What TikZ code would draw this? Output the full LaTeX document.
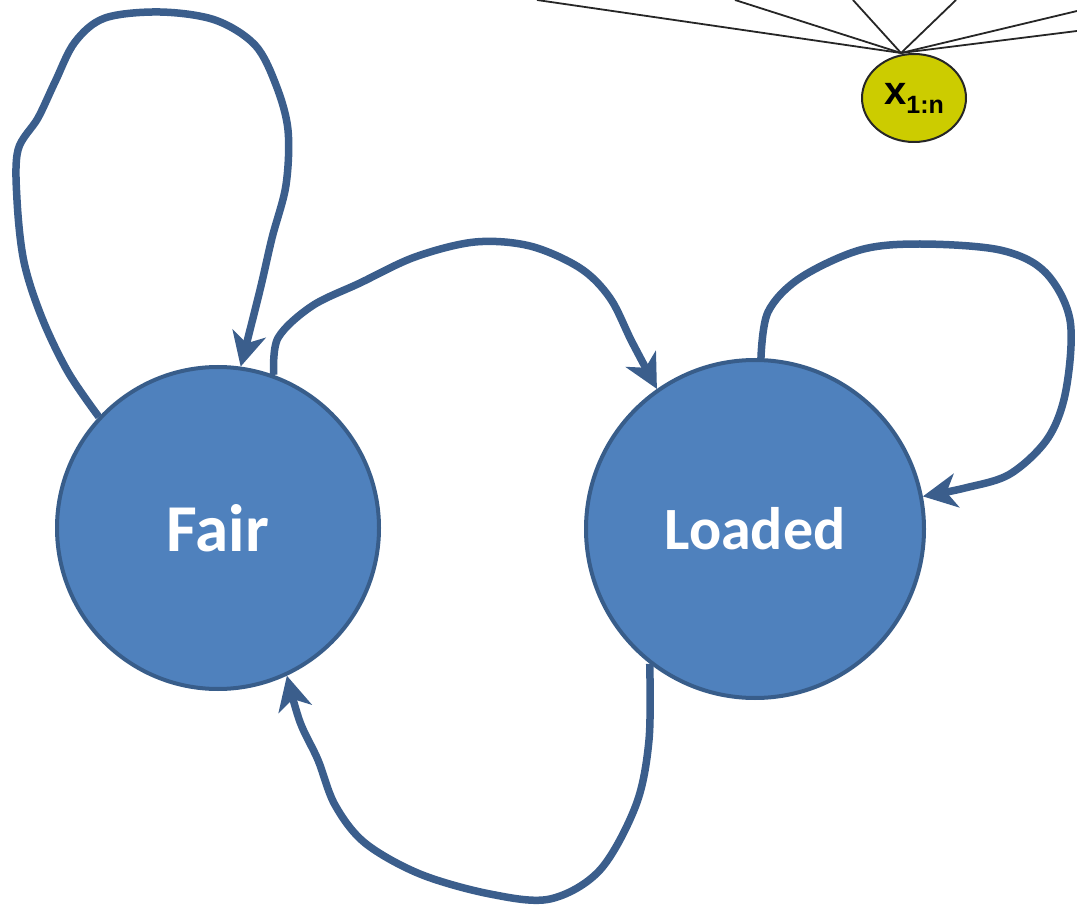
\documentclass[tikz,border=0pt]{standalone}
\usepackage{fontspec}
\usetikzlibrary{arrows.meta,shapes.geometric}
\newfontfamily\statefont{Carlito}
\newfontfamily\obsfont{Liberation Sans}
\definecolor{statefill}{HTML}{4F81BD}
\definecolor{stateline}{HTML}{385D8A}
\definecolor{arcline}{HTML}{3B5E8C}
\definecolor{obsfill}{HTML}{CCCC00}

\tikzset{
  state/.style={circle, draw=stateline, line width=4pt, fill=statefill, inner sep=0pt,
    text=white, font=\statefont\bfseries},
  trans/.style={draw=arcline, line width=7.5pt, line join=round,
    -{Stealth[length=34pt, width=34pt, inset=10pt]}},
  obs/.style={ellipse, draw=black!85, line width=2pt, fill=obsfill, inner sep=0pt,
    minimum width=104pt, minimum height=88pt},
  edge/.style={draw=black!85, line width=1.8pt}
}

\begin{document}
\begin{tikzpicture}[x=1pt, y=-1pt]
    \useasboundingbox (0,0) rectangle (1077,909);
    % the two states
    \node[state, minimum size=322pt, font=\statefont\bfseries\fontsize{67}{67}\selectfont] (fair) at (218,528) {Fair};
    \node[state, minimum size=338pt, font=\statefont\bfseries\fontsize{60}{60}\selectfont] (loaded) at (755,529) {Loaded};

    % observed variable, cut off at the top
    \node[obs] (obs) at (914,98) {};
    \node at (obs.center) {\obsfont\bfseries\fontsize{40}{40}\selectfont x\raisebox{-9pt}{\fontsize{25}{25}\selectfont 1:n}};
    \coordinate (top) at (901,53);
    \coordinate (e1) at (537,0);
    \coordinate (e2) at (735,0);
    \coordinate (e3) at (853,0);
    \coordinate (e4) at (956,0);
    \coordinate (e5) at (1077,11);
    \coordinate (e6) at (1077,31);
    \foreach \e in {e1,e2,e3,e4,e5,e6}
        \draw[edge] (top) -- (\e);

    % Fair -> Fair
    \draw[trans] plot[smooth, tension=0.55] coordinates {(fair.137) (68,372) (42,318) (24,262) (17,200)
        (18,150) (38,118) (55,82) (75,42) (105,18) (160,12) (215,20) (255,45) (276,85) (288,130)
        (286,185) (272,238) (260,290) (fair.82)};
    % Fair -> Loaded
    \draw[trans] plot[smooth, tension=0.55] coordinates {(fair.70) (278,338) (312,306) (360,283)
        (415,257) (475,242) (530,246) (580,268) (610,298) (632,342) (loaded.125)};
    % Loaded -> Loaded
    \draw[trans] plot[smooth, tension=0.55] coordinates {(loaded.88) (768,312) (800,278) (860,250)
        (920,244) (1000,250) (1045,272) (1070,320) (1066,390) (1048,438) (1010,474) (965,488) (loaded.11)};
    % Loaded -> Fair
    \draw[trans] plot[smooth, tension=0.55] coordinates {(loaded.-128) (649,740) (636,805) (600,870)
        (550,899) (490,894) (420,874) (365,843) (335,805) (318,760) (300,722) (fair.-65)};
\end{tikzpicture}
\end{document}
